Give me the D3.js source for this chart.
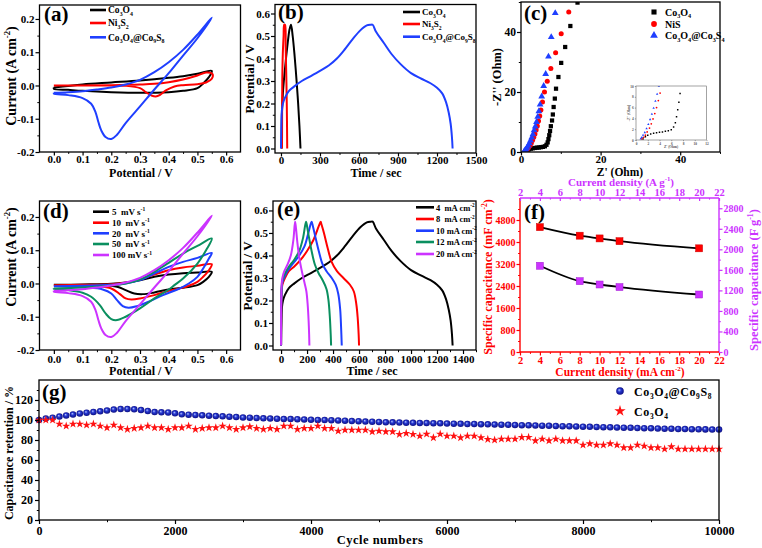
<!DOCTYPE html>
<html><head><meta charset="utf-8">
<script src="https://cdn.jsdelivr.net/npm/d3@7"></script>
<style>body{margin:0;background:#fff}svg{font-family:"Liberation Serif","Times New Roman",Times,serif;font-weight:bold}text{white-space:pre}</style>
</head><body><svg id="fig" width="762" height="548"></svg>
<script>
// ---------- DATA ----------
// (a) CV curves at 100 mV/s  [V, I]
const cvCo3O4=[[0,-0.006],[0.1,0.003],[0.2,0.009],[0.3,0.015],[0.4,0.023],[0.45,0.028],[0.5,0.035],[0.55,0.044],[0.54,0.025],[0.52,0.006],[0.5,-0.008],[0.45,-0.016],[0.4,-0.02],[0.3,-0.022],[0.2,-0.02],[0.1,-0.016],[0.05,-0.013],[0,-0.01],[0,-0.006]];
const cvNi3S2=[[0,0.0],[0.1,0.0],[0.2,0.001],[0.3,0.003],[0.35,0.005],[0.4,0.01],[0.45,0.018],[0.5,0.03],[0.53,0.039],[0.552,0.035],[0.55,0.02],[0.53,0.009],[0.5,0.004],[0.45,0.001],[0.42,-0.003],[0.39,-0.015],[0.37,-0.028],[0.355,-0.033],[0.34,-0.03],[0.32,-0.02],[0.3,-0.008],[0.25,-0.001],[0.15,0.0],[0,0.0]];
const cv100=[[0,-0.022],[0.05,-0.02],[0.1,-0.017],[0.15,-0.012],[0.2,-0.006],[0.25,0.003],[0.3,0.017],[0.35,0.04],[0.4,0.07],[0.45,0.107],[0.5,0.153],[0.55,0.204],[0.5,0.142],[0.45,0.09],[0.4,0.037],[0.35,-0.012],[0.3,-0.063],[0.25,-0.113],[0.22,-0.148],[0.2,-0.161],[0.18,-0.155],[0.165,-0.135],[0.155,-0.11],[0.145,-0.08],[0.13,-0.055],[0.1,-0.038],[0.05,-0.029],[0,-0.024],[0,-0.022]];
// (d) CV at different scan rates
const cv5=[[0,-0.004],[0.1,-0.003],[0.2,-0.001],[0.25,0.003],[0.3,0.01],[0.35,0.02],[0.4,0.027],[0.45,0.031],[0.5,0.033],[0.55,0.035],[0.54,0.02],[0.52,0.005],[0.5,-0.005],[0.45,-0.013],[0.4,-0.018],[0.35,-0.027],[0.31,-0.032],[0.28,-0.03],[0.25,-0.02],[0.22,-0.01],[0.15,-0.005],[0.05,-0.004],[0,-0.004]];
const cv10=[[0,-0.005],[0.1,-0.004],[0.2,-0.002],[0.25,0.002],[0.3,0.012],[0.35,0.027],[0.4,0.04],[0.45,0.048],[0.5,0.053],[0.55,0.058],[0.54,0.04],[0.52,0.02],[0.5,0.005],[0.46,-0.01],[0.4,-0.022],[0.35,-0.035],[0.3,-0.045],[0.27,-0.048],[0.25,-0.045],[0.23,-0.032],[0.2,-0.015],[0.15,-0.008],[0.05,-0.006],[0,-0.005]];
const cv20=[[0,-0.008],[0.1,-0.007],[0.2,-0.004],[0.25,0.0],[0.3,0.01],[0.35,0.03],[0.4,0.05],[0.45,0.065],[0.5,0.077],[0.55,0.092],[0.54,0.075],[0.52,0.045],[0.5,0.02],[0.47,0.0],[0.43,-0.018],[0.38,-0.035],[0.33,-0.055],[0.29,-0.068],[0.26,-0.073],[0.24,-0.068],[0.22,-0.05],[0.2,-0.03],[0.17,-0.018],[0.12,-0.012],[0.05,-0.01],[0,-0.008]];
const cv50=[[0,-0.015],[0.1,-0.012],[0.2,-0.006],[0.25,0.0],[0.3,0.012],[0.35,0.035],[0.4,0.062],[0.45,0.09],[0.5,0.113],[0.55,0.135],[0.53,0.1],[0.5,0.06],[0.45,0.015],[0.42,-0.005],[0.4,-0.018],[0.35,-0.045],[0.3,-0.075],[0.25,-0.1],[0.22,-0.11],[0.2,-0.107],[0.18,-0.09],[0.16,-0.065],[0.13,-0.04],[0.1,-0.028],[0.05,-0.02],[0,-0.016],[0,-0.015]];
// (b)/(e) GCD curves  [t (s), V]
const gcdCo3O4=[[5,0],[7,0.15],[15,0.25],[30,0.35],[48,0.45],[66,0.53],[77,0.55],[90,0.5],[105,0.41],[120,0.3],[132,0.2],[142,0.1],[150,0]];
const gcdNi3S2=[[8,0],[10,0.3],[14,0.42],[20,0.5],[25,0.55],[31,0.55],[36,0.45],[41,0.32],[45,0.18],[48,0]];
const gcd4=[[0,0],[3,0.1],[7,0.17],[15,0.2],[30,0.225],[60,0.255],[100,0.275],[160,0.3],[230,0.322],[300,0.345],[370,0.37],[430,0.4],[490,0.44],[550,0.485],[610,0.525],[660,0.547],[690,0.55],[705,0.55],[730,0.52],[790,0.47],[850,0.42],[920,0.375],[1000,0.335],[1080,0.31],[1150,0.29],[1200,0.27],[1240,0.245],[1270,0.205],[1290,0.16],[1305,0.11],[1315,0.05],[1320,0]];
const gcd8=[[0,0],[3,0.2],[10,0.27],[30,0.3],[60,0.33],[100,0.35],[150,0.38],[200,0.42],[250,0.47],[290,0.53],[305,0.55],[310,0.54],[330,0.5],[360,0.43],[390,0.37],[430,0.33],[480,0.3],[530,0.27],[560,0.24],[580,0.18],[590,0.12],[597,0.05],[600,0]];
const gcd10=[[0,0],[3,0.22],[10,0.28],[30,0.31],[60,0.34],[100,0.37],[140,0.4],[180,0.44],[210,0.5],[235,0.55],[245,0.53],[265,0.48],[290,0.42],[320,0.36],[350,0.33],[390,0.3],[420,0.27],[440,0.23],[455,0.16],[462,0.08],[467,0]];
const gcd12=[[0,0],[3,0.24],[10,0.29],[30,0.32],[60,0.35],[100,0.38],[140,0.42],[170,0.48],[192,0.55],[200,0.53],[215,0.48],[235,0.42],[260,0.36],[290,0.32],[320,0.29],[350,0.25],[365,0.2],[375,0.13],[382,0.05],[385,0]];
const gcd20=[[0,0],[3,0.25],[10,0.3],[25,0.33],[50,0.36],[75,0.4],[95,0.47],[108,0.55],[115,0.52],[125,0.46],[140,0.39],[160,0.33],[180,0.28],[195,0.24],[205,0.18],[212,0.11],[216,0.05],[218,0]];
// (c) Nyquist  [Z', -Z'']
const eisCo3O4=[[1.2,0.2],[1.6,0.6],[2.0,0.9],[2.5,1.1],[3.0,1.25],[3.5,1.35],[4.0,1.45],[4.5,1.5],[5.0,1.6],[5.5,1.7],[6.0,1.9],[6.4,2.4],[6.7,3.2],[6.9,4.3],[7.1,5.6],[7.3,7.0],[7.5,8.6],[7.8,10.5],[8.0,12.5],[8.2,15],[8.5,17.8],[8.8,21.1],[9.4,25],[10.1,29.7],[11.1,35],[12.4,42],[14.2,49.8]];
const eisNiS=[[1.0,0.2],[1.3,0.5],[1.6,0.9],[1.9,1.5],[2.3,2.2],[2.6,3.0],[2.9,3.9],[3.2,4.9],[3.5,6.0],[3.8,7.3],[4.1,8.7],[4.4,10.3],[4.7,12.0],[5.0,14.0],[5.4,16.7],[5.9,20],[6.6,23.6],[7.5,27.8],[8.7,33.1],[10.1,39.4],[12,46.7]];
const eisCoS=[[0.8,0.2],[1.0,0.5],[1.2,0.9],[1.5,1.4],[1.8,2.1],[2.1,2.9],[2.4,3.8],[2.7,4.8],[3.0,5.9],[3.3,7.2],[3.6,8.5],[3.9,10],[4.2,11.7],[4.5,13.6],[4.8,15.8],[5.2,18.5],[5.7,22],[6.2,26],[6.9,31.8],[7.6,38.3],[8.6,46.3]];
// (f) rate capability
const fDensity=[4,8,10,12,20];
const fAreal=[4540,4230,4130,4030,3770];
const fMass=[1680,1380,1315,1265,1120];
// (g) cycling (every 100 cycles, 0..10000)
const gBlue=[100,101.5,102.3,103.5,104.5,105.5,106.5,107.3,108,108.7,109.5,110.5,111,111,110.7,110,109,108,107.7,107.5,106.7,105.7,105.3,105,104.7,104.3,104,103.7,103.3,103,102.5,102.3,102,101.7,
101.5,101.3,101,101,100.8,100.5,100.3,100,100,99.8,99.5,99.3,99,98.8,98.5,98.3,98,97.8,97.7,97.5,97.3,97.2,97,97,96.8,96.7,96.5,96.3,96.2,96,96,95.8,95.7,
95.5,95.3,95.2,95,94.8,94.7,94.5,94.3,94.2,94,93.8,93.7,93.5,93.3,93.2,93,92.8,92.7,92.5,92.3,92.2,92,91.8,91.7,91.5,91.3,91.2,91,91,90.8,90.7,90.6,90.5,90.5];
const gRed=[100,100,100,96,94,96,96,95,96,94,92.3,95,92.3,90.7,91.7,92.3,94,92.3,92.3,90.7,92.3,92.3,94,90.7,91.7,92.3,92.3,94,92.3,90.7,92.3,93.3,91.7,90.7,
91.7,90.7,94,94,90.7,91.7,91.7,94,91.7,91.7,89,90,90,90,90,88.3,89,88.3,88.3,85.7,86.7,85.7,84,86,82.3,86,84,84,82.3,84,84,82.3,80.7,
80,81,81,81,82.7,82.7,79.3,81,79.3,81,79.3,79.3,79.3,75,76.3,75,75,76.3,75,72.3,72.3,75,74,72.3,72.3,71,73.3,71,71,71,71,71,71,71];
const gStep=100;

// ---------- HELPERS ----------
const FONT='"Liberation Serif","Times New Roman",Times,serif';
const svg=d3.select('#fig');
const RED='#ff0000', BLUE='#1f3fff', GREEN='#0a8f5f', PURPLE='#cc33ff';

function rich(sel,str){
  const fs=+sel.attr('font-size');
  const re=/([_^])\{([^}]*)\}|([_^])(\S)|([^_^]+)/g;
  let cur=0,m;
  while((m=re.exec(str))!==null){
    let txt,target,small=false;
    if(m[5]!==undefined){txt=m[5];target=0;}
    else{const k=m[1]||m[3];txt=m[2]!==undefined?m[2]:m[4];target=k==='_'?0.28*fs:-0.42*fs;small=true;}
    const t=sel.append('tspan').text(txt);
    if(target!==cur){t.attr('dy',target-cur);cur=target;}
    if(small)t.attr('font-size',fs*0.62);
  }
}
function label(x,y,str,o={}){
  const t=svg.append('text').attr('transform',`translate(${x},${y}) rotate(${o.rot||0})`)
    .attr('text-anchor',o.anchor||'middle').attr('font-size',o.size||12).attr('fill',o.color||'#000');
  if(o.ls)t.attr('letter-spacing',o.ls);
  rich(t,str);return t;
}
function axis(scale,orient,pos,major,minor,fmt,color='#000',size=4,fs=11,pad=1,inward=false){
  const mk={bottom:d3.axisBottom,left:d3.axisLeft,top:d3.axisTop,right:d3.axisRight}[orient];
  const tr=(orient==='bottom'||orient==='top')?`translate(0,${pos})`:`translate(${pos},0)`;
  const s=inward?-size:size;
  if(minor){
    const gm=svg.append('g').attr('transform',tr).call(mk(scale).tickValues(minor).tickSize(s*0.55).tickFormat(''));
    gm.select('.domain').remove();gm.selectAll('line').attr('stroke',color).attr('stroke-width',1);
  }
  const ga=svg.append('g').attr('transform',tr).call(mk(scale).tickValues(major).tickSize(s).tickPadding(pad).tickFormat(fmt));
  ga.select('.domain').remove();
  ga.attr('font-family',FONT).attr('font-size',fs).attr('font-weight','bold');
  ga.selectAll('line').attr('stroke',color).attr('stroke-width',1.2);
  ga.selectAll('text').attr('fill',color);
  return ga;
}
function frame(x,y,color='#000'){
  const [x0,x1]=x.range(),[y0,y1]=y.range();
  svg.append('rect').attr('x',Math.min(x0,x1)).attr('y',Math.min(y0,y1))
    .attr('width',Math.abs(x1-x0)).attr('height',Math.abs(y1-y0))
    .attr('fill','none').attr('stroke',color).attr('stroke-width',1.3);
}
function clip(id,x,y){
  const [x0,x1]=x.range(),[y0,y1]=y.range();
  svg.append('clipPath').attr('id',id).append('rect').attr('x',Math.min(x0,x1)).attr('y',Math.min(y0,y1))
    .attr('width',Math.abs(x1-x0)).attr('height',Math.abs(y1-y0));
  return svg.append('g').attr('clip-path',`url(#${id})`);
}
function curve(g,data,x,y,color,w=2){
  g.append('path').datum(data).attr('fill','none').attr('stroke',color).attr('stroke-width',w)
    .attr('stroke-linejoin','round')
    .attr('d',d3.line().x(d=>x(d[0])).y(d=>y(d[1])).curve(d3.curveCatmullRom.alpha(0.5)));
}
const rng=(a,b,s)=>d3.range(a,b+s/2,s);
const f1=d=>d.toFixed(1);

// defs
const defs=svg.append('defs');
const rg=defs.append('radialGradient').attr('id','sph').attr('cx','50%').attr('cy','50%').attr('r','55%').attr('fx','38%').attr('fy','35%');
rg.append('stop').attr('offset','0%').attr('stop-color','#b8c8ff');
rg.append('stop').attr('offset','40%').attr('stop-color','#2436d0');
rg.append('stop').attr('offset','100%').attr('stop-color','#0a0a78');

// ---------- (a) ----------
{
  const x=d3.scaleLinear().domain([-0.05,0.65]).range([39.5,240.5]);
  const y=d3.scaleLinear().domain([-0.2,0.242]).range([152,5]);
  const g=clip('ca',x,y);
  curve(g,cvCo3O4,x,y,'#000');curve(g,cvNi3S2,x,y,RED);curve(g,cv100,x,y,BLUE);
  frame(x,y);
  axis(x,'bottom',152,rng(0,0.6,0.1),rng(0.05,0.55,0.1),f1,'#000',3.5,11,0);
  axis(y,'left',39.5,rng(-0.2,0.2,0.1),rng(-0.15,0.15,0.1),f1);
  label(44,21,'(a)',{size:21,anchor:'start'});
  const lg=[['Co_3O_4','#000'],['Ni_3S_2',RED],['Co_3O_4@Co_9S_8',BLUE]];
  const ly=[10,23,37.3];
  lg.forEach((d,i)=>{svg.append('line').attr('x1',90).attr('x2',106).attr('y1',ly[i]).attr('y2',ly[i]).attr('stroke',d[1]).attr('stroke-width',2.6);
    label(108,ly[i]+3.3,d[0],{size:9.5,anchor:'start'});});
  label(141,177,'Potential / V',{size:12});
  label(16,76,'Current (A cm^{-2})',{size:14,rot:-90});
}
// ---------- (b) ----------
{
  const x=d3.scaleLinear().domain([-46,1500]).range([275,476]);
  const y=d3.scaleLinear().domain([-0.02,0.64]).range([153,4.5]);
  const g=clip('cb',x,y);
  curve(g,gcdCo3O4,x,y,'#000');curve(g,gcdNi3S2,x,y,RED);curve(g,gcd4,x,y,BLUE);
  frame(x,y);
  axis(x,'bottom',153,rng(0,1500,300),rng(150,1350,300),d3.format('d'),'#000',3.5,11,0);
  axis(y,'left',275,rng(0,0.6,0.1),rng(0.05,0.55,0.1),f1);
  label(278,19,'(b)',{size:21,anchor:'start'});
  const lg=[['Co_3O_4','#000'],['Ni_3S_2',RED],['Co_3O_4@Co_9S_8',BLUE]];
  const ly=[12,24,36.7];
  lg.forEach((d,i)=>{svg.append('line').attr('x1',403).attr('x2',420).attr('y1',ly[i]).attr('y2',ly[i]).attr('stroke',d[1]).attr('stroke-width',2.6);
    label(422,ly[i]+3.3,d[0],{size:9,anchor:'start'});});
  label(376,177,'Time / sec',{size:12});
  label(254,79,'Potential / V',{size:13,rot:-90});
}
// ---------- (c) ----------
{
  const x=d3.scaleLinear().domain([0,50]).range([521,720]);
  const y=d3.scaleLinear().domain([0,50]).range([152,2]);
  const g=clip('cc',x,y);
  const sq=d3.symbol(d3.symbolSquare,18),ci=d3.symbol(d3.symbolCircle,20),tr=d3.symbol(d3.symbolTriangle,20);
  g.selectAll('.p1').data(eisCo3O4).join('path').attr('d',sq).attr('transform',d=>`translate(${x(d[0])},${y(d[1])})`).attr('fill','#000');
  g.selectAll('.p2').data(eisNiS).join('path').attr('d',ci).attr('transform',d=>`translate(${x(d[0])},${y(d[1])})`).attr('fill',RED);
  g.selectAll('.p3').data(eisCoS).join('path').attr('d',tr).attr('transform',d=>`translate(${x(d[0])},${y(d[1])})`).attr('fill',BLUE);
  frame(x,y);
  axis(x,'bottom',152,[0,20,40],[10,30,50],d3.format('d'),'#000',3.5,11,0);
  axis(y,'left',521,[0,20,40],[10,30,50],d3.format('d'),'#000',4,11.5);
  label(524,20,'(c)',{size:21,anchor:'start'});
  const mk=[[sq,'#000','Co_3O_4'],[ci,RED,'NiS'],[tr,BLUE,'Co_3O_4@Co_3S_4']];
  const ly=[12,24,35.5];
  mk.forEach((d,i)=>{svg.append('path').attr('d',d3.symbol([d3.symbolSquare,d3.symbolCircle,d3.symbolTriangle][i],26)).attr('transform',`translate(654,${ly[i]})`).attr('fill',d[1]);
    label(665,ly[i]+3.5,d[2],{size:10,anchor:'start'});});
  label(620,175.5,"Z' (Ohm)",{size:11.5});
  label(501,77,"-Z'' (Ohm)",{size:12.5,rot:-90});
  // inset
  const ix=d3.scaleLinear().domain([0,12]).range([636,706.5]);
  const iy=d3.scaleLinear().domain([0,10]).range([140,86]);
  svg.append('rect').attr('x',636).attr('y',86).attr('width',70.5).attr('height',54).attr('fill','#fff');
  const gi=clip('ci',ix,iy);
  const s1=d3.symbol(d3.symbolSquare,2.2),s2=d3.symbol(d3.symbolCircle,2.5),s3=d3.symbol(d3.symbolTriangle,2.5);
  gi.selectAll('.i1').data(eisCo3O4).join('path').attr('d',s1).attr('transform',d=>`translate(${ix(d[0])},${iy(d[1])})`).attr('fill','#000');
  gi.selectAll('.i2').data(eisNiS).join('path').attr('d',s2).attr('transform',d=>`translate(${ix(d[0])},${iy(d[1])})`).attr('fill',RED);
  gi.selectAll('.i3').data(eisCoS).join('path').attr('d',s3).attr('transform',d=>`translate(${ix(d[0])},${iy(d[1])})`).attr('fill',BLUE);
  svg.append('rect').attr('x',636).attr('y',86).attr('width',70.5).attr('height',54).attr('fill','none').attr('stroke','#666').attr('stroke-width',0.6);
  const xa=axis(ix,'bottom',140,rng(0,12,2),null,d3.format('d'),'#555',1.2,3.5);
  const ya=axis(iy,'left',636,rng(0,10,2),null,d3.format('d'),'#555',1.2,3.5);
  xa.selectAll('line').attr('stroke-width',0.5);ya.selectAll('line').attr('stroke-width',0.5);
  label(671,148,"Z' (Ohm)",{size:3.5,color:'#555'});
  label(630,113,"-Z'' (Ohm)",{size:3.5,rot:-90,color:'#555'});
}
// ---------- (d) ----------
{
  const x=d3.scaleLinear().domain([-0.05,0.65]).range([39.5,240.5]);
  const y=d3.scaleLinear().domain([-0.2,0.248]).range([350,201]);
  const g=clip('cd',x,y);
  const series=[[cv5,'#000','5  mV s^{-1}'],[cv10,RED,'10  mV s^{-1}'],[cv20,BLUE,'20  mV s^{-1}'],[cv50,GREEN,'50  mV s^{-1}'],[cv100,PURPLE,'100 mV s^{-1}']];
  series.forEach(s=>curve(g,s[0],x,y,s[1]));
  frame(x,y);
  axis(x,'bottom',350,rng(0,0.6,0.1),rng(0.05,0.55,0.1),f1);
  axis(y,'left',39.5,rng(-0.2,0.2,0.1),rng(-0.15,0.15,0.1),f1);
  label(43,218,'(d)',{size:21,anchor:'start'});
  const ly=[211.7,222.7,233.3,244,255];
  series.forEach((s,i)=>{svg.append('line').attr('x1',93).attr('x2',109).attr('y1',ly[i]).attr('y2',ly[i]).attr('stroke',s[1]).attr('stroke-width',2.6);
    label(112,ly[i]+3.3,s[2],{size:9,anchor:'start'});});
  label(141,375,'Potential / V',{size:12});
  label(16,257,'Current (A cm^{-2})',{size:14,rot:-90});
}
// ---------- (e) ----------
{
  const x=d3.scaleLinear().domain([-62,1500]).range([273,476]);
  const y=d3.scaleLinear().domain([-0.02,0.642]).range([350,201]);
  const g=clip('ce',x,y);
  const series=[[gcd4,'#000','4  mA cm^{-2}'],[gcd8,RED,'8  mA cm^{-2}'],[gcd10,BLUE,'10 mA cm^{-2}'],[gcd12,GREEN,'12 mA cm^{-2}'],[gcd20,PURPLE,'20 mA cm^{-2}']];
  series.forEach(s=>curve(g,s[0],x,y,s[1]));
  frame(x,y);
  axis(x,'bottom',350,rng(0,1400,200),rng(100,1500,200),d3.format('d'));
  axis(y,'left',273,rng(0,0.6,0.1),rng(0.05,0.55,0.1),f1);
  label(277,216,'(e)',{size:21,anchor:'start'});
  const ly=[207.3,219,230.7,242,254];
  series.forEach((s,i)=>{svg.append('line').attr('x1',416).attr('x2',434).attr('y1',ly[i]).attr('y2',ly[i]).attr('stroke',s[1]).attr('stroke-width',2.6);
    label(436,ly[i]+3.3,s[2],{size:8.5,anchor:'start'});});
  label(372,375,'Time / sec',{size:12});
  label(252,276,'Potential / V',{size:13,rot:-90});
}
// ---------- (f) ----------
{
  const x=d3.scaleLinear().domain([2,22]).range([520,719]);
  const yL=d3.scaleLinear().domain([0,5600]).range([352,198]);
  const yR=d3.scaleLinear().domain([0,3000]).range([352,198]);
  const ln=(yy)=>d3.line().x((d,i)=>x(fDensity[i])).y(d=>yy(d)).curve(d3.curveMonotoneX);
  svg.append('path').datum(fAreal).attr('fill','none').attr('stroke','#000').attr('stroke-width',1.8).attr('d',ln(yL));
  svg.append('path').datum(fMass).attr('fill','none').attr('stroke','#000').attr('stroke-width',1.8).attr('d',ln(yR));
  svg.selectAll('.fa').data(fAreal).join('rect').attr('x',(d,i)=>x(fDensity[i])-3.5).attr('y',d=>yL(d)-3.5).attr('width',7).attr('height',7).attr('fill',RED).attr('stroke','#c00').attr('stroke-width',0.5);
  svg.selectAll('.fm').data(fMass).join('rect').attr('x',(d,i)=>x(fDensity[i])-3.5).attr('y',d=>yR(d)-3.5).attr('width',7).attr('height',7).attr('fill',PURPLE).attr('stroke','#a020d0').attr('stroke-width',0.5);
  const ed=(x1,y1,x2,y2,c)=>svg.append('line').attr('x1',x1).attr('y1',y1).attr('x2',x2).attr('y2',y2).attr('stroke',c).attr('stroke-width',1.4);
  ed(520,198,719,198,PURPLE);ed(719,198,719,352,PURPLE);ed(520,352,719,352,RED);ed(520,198,520,352,RED);
  axis(x,'bottom',352,rng(2,22,2),rng(3,21,2),d3.format('d'),RED,3.5,10.5,1);
  axis(x,'top',198,rng(2,22,2),rng(3,21,2),d3.format('d'),PURPLE,3,10.5,2,true);
  axis(yL,'left',520,rng(0,4800,800),rng(400,5200,800),d3.format('d'),RED,3.5,10,1);
  axis(yR,'right',719,rng(0,2800,400),rng(200,2600,400),d3.format('d'),PURPLE,3.5,10,1);
  label(524,219,'(f)',{size:21,anchor:'start'});
  label(621,186,'Current density (A g^{-1})',{size:11,color:PURPLE});
  label(620,376,'Current density (mA cm^{-2})',{size:11.5,color:RED});
  label(492,277,'Specific capacitance (mF cm^{-2})',{size:12,rot:-90,color:RED});
  label(758,280,'Specific capacitance (F g^{-1})',{size:12.5,rot:-90,color:PURPLE});
}
// ---------- (g) ----------
{
  const x=d3.scaleLinear().domain([0,10000]).range([39,719]);
  const y=d3.scaleLinear().domain([0,140]).range([520,380]);
  const star=d3.symbol(d3.symbolStar,22);
  svg.selectAll('.gb').data(gBlue).join('circle').attr('cx',(d,i)=>x(i*gStep)).attr('cy',d=>y(d)).attr('r',3.3).attr('fill','url(#sph)');
  svg.selectAll('.gr').data(gRed).join('path').attr('d',star).attr('transform',(d,i)=>`translate(${x(i*gStep)},${y(d)})`).attr('fill','#ff1111');
  frame(x,y);
  axis(x,'bottom',520,rng(0,10000,2000),rng(1000,9000,2000),d3.format('d'),'#000',4,12,2);
  axis(y,'left',39,rng(0,120,20),rng(10,130,20),d3.format('d'),'#000',4,12,2);
  label(42,399,'(g)',{size:21,anchor:'start'});
  svg.append('circle').attr('cx',620).attr('cy',391).attr('r',3.8).attr('fill','url(#sph)');
  label(634,395.5,'Co_3O_4@Co_9S_8',{size:12,anchor:'start',ls:0.6});
  svg.append('path').attr('d',d3.symbol(d3.symbolStar,40)).attr('transform','translate(620,411)').attr('fill','#ff1111');
  label(634,415.5,'Co_3O_4',{size:12,anchor:'start',ls:0.6});
  label(380,544,'Cycle numbers',{size:12.5,ls:0.5});
  label(13,453,'Capacitance retention / %',{size:12,rot:-90});
}
</script></body></html>
